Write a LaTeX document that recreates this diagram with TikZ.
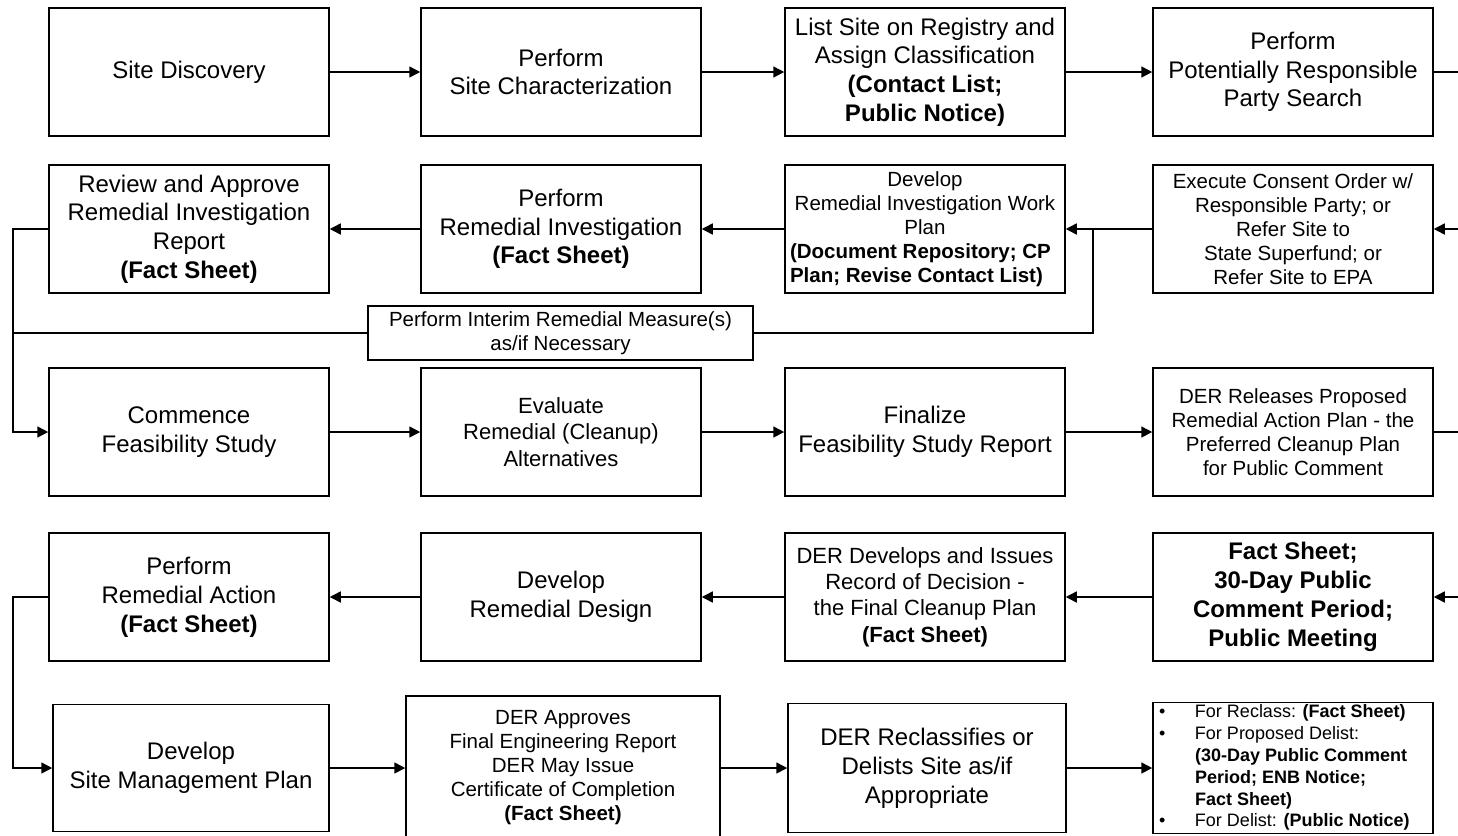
\documentclass[tikz,border=0pt]{standalone}
\usepackage{fontspec}
\setmainfont{Liberation Sans}
\usetikzlibrary{arrows.meta}
\newcommand{\fsL}{\fontsize{12pt}{14.4pt}\selectfont}
\newcommand{\fsM}{\fontsize{11pt}{13.2pt}\selectfont}
\newcommand{\fsS}{\fontsize{10.25pt}{12pt}\selectfont}
\newcommand{\fsT}{\fontsize{9pt}{10.9pt}\selectfont}
\begin{document}
\begin{tikzpicture}[x=0.5pt,y=-0.5pt,
  box/.style={draw=black, line width=0.75pt, minimum width=140pt, minimum height=64pt,
              inner sep=0pt, align=center, font=\fsL, fill=white},
  ln/.style={draw=black, line width=0.75pt},
  arr/.style={ln, -{Triangle[length=5.5pt,width=5.5pt]}}]
\useasboundingbox (0,0) rectangle (1458,836);
\begin{scope}
\clip (0,0) rectangle (1458,836);
% row 1
\node[box] (a1) at (189,72) {Site Discovery};
\node[box] (a2) at (561,72) {Perform\\Site Characterization};
\node[box] (a3) at (925,72) {List Site on Registry and\\Assign Classification\\\textbf{(Contact List;}\\\textbf{Public Notice)}};
\node[box] (a4) at (1293,72) {Perform\\Potentially Responsible\\Party Search};
% row 2
\node[box] (b1) at (189,229) {Review and Approve\\Remedial Investigation\\Report\\\textbf{(Fact Sheet)}};
\node[box] (b2) at (561,229) {Perform\\Remedial Investigation\\\textbf{(Fact Sheet)}};
\node[box, font=\fsS] (b3) at (925,229) {Develop\\Remedial Investigation Work\\Plan\\\makebox[135pt][l]{\textbf{(Document Repository; CP}}\\\makebox[135pt][l]{\textbf{Plan; Revise Contact List)}}};
\node[box, font=\fsS] (b4) at (1293,229) {Execute Consent Order w/\\Responsible Party; or\\Refer Site to\\State Superfund; or\\Refer Site to EPA};
% interim
\node[box, font=\fsS, minimum width=192.5pt, minimum height=27pt] (im) at (560.5,333) {Perform Interim Remedial Measure(s)\\as/if Necessary};
% row 3
\node[box] (c1) at (189,432) {Commence\\Feasibility Study};
\node[box, font=\fsM] (c2) at (561,432) {Evaluate\\Remedial (Cleanup)\\Alternatives};
\node[box] (c3) at (925,432) {Finalize\\Feasibility Study Report};
\node[box, font=\fsS] (c4) at (1293,432) {DER Releases Proposed\\Remedial Action Plan - the\\Preferred Cleanup Plan\\for Public Comment};
% row 4
\node[box] (d1) at (189,597) {Perform\\Remedial Action\\\textbf{(Fact Sheet)}};
\node[box] (d2) at (561,597) {Develop\\Remedial Design};
\node[box, font=\fsM] (d3) at (925,597) {DER Develops and Issues\\Record of Decision -\\the Final Cleanup Plan\\\textbf{(Fact Sheet)}};
\node[box, font=\fsL\bfseries] (d4) at (1293,597) {Fact Sheet;\\30-Day Public\\Comment Period;\\Public Meeting};
% row 5
\node[box, minimum width=138pt, minimum height=63.5pt] (e1) at (191,768) {Develop\\Site Management Plan};
\node[box, font=\fsS, minimum width=157pt, minimum height=72pt] (e2) at (563,768) {DER Approves\\Final Engineering Report\\DER May Issue\\Certificate of Completion\\\textbf{(Fact Sheet)}};
\node[box, minimum width=139pt, minimum height=64.5pt] (e3) at (927,768) {DER Reclassifies or\\Delists Site as/if\\Appropriate};
\node[box, font=\fsT, minimum height=64.5pt] (e4) at (1293,768) {%
\begin{tabular}{@{}p{21pt}@{}p{119pt}@{}}
\hspace*{3pt}\textbullet & For Reclass: \textbf{(Fact Sheet)}\\
\hspace*{3pt}\textbullet & For Proposed Delist:\\
 & \textbf{(30-Day Public Comment}\\
 & \textbf{Period; ENB Notice;}\\
 & \textbf{Fact Sheet)}\\
\hspace*{3pt}\textbullet & For Delist: \textbf{(Public Notice)}
\end{tabular}};
% helper coordinates
\coordinate (r1) at (1470,72);
\coordinate (r2) at (1470,229);
\coordinate (r3) at (1470,432);
\coordinate (r4) at (1470,597);
\coordinate (l1) at (13,229);
\coordinate (l2) at (13,432);
\coordinate (l3) at (13,333);
\coordinate (l4) at (13,597);
\coordinate (l5) at (13,768);
\coordinate (j1) at (1093,229);
% connectors row 1
\draw[arr] (a1) -- (a2);
\draw[arr] (a2) -- (a3);
\draw[arr] (a3) -- (a4);
\draw[ln] (a4) -- (r1);
% row 2
\draw[arr] (r2) -- (b4);
\draw[arr] (b4) -- (b3);
\draw[arr] (b3) -- (b2);
\draw[arr] (b2) -- (b1);
\draw[arr] (b1.west) -- (l1) -- (l2) -- (c1.west);
\draw[ln] (l3) -- (im.west);
\draw[ln] (im.east) -| (j1);
% row 3
\draw[arr] (c1) -- (c2);
\draw[arr] (c2) -- (c3);
\draw[arr] (c3) -- (c4);
\draw[ln] (c4) -- (r3);
% row 4
\draw[arr] (r4) -- (d4);
\draw[arr] (d4) -- (d3);
\draw[arr] (d3) -- (d2);
\draw[arr] (d2) -- (d1);
\draw[arr] (d1.west) -- (l4) -- (l5) -- (e1.west);
% row 5
\draw[arr] (e1) -- (e2);
\draw[arr] (e2) -- (e3);
\draw[arr] (e3) -- (e4);
\end{scope}
\end{tikzpicture}
\end{document}
